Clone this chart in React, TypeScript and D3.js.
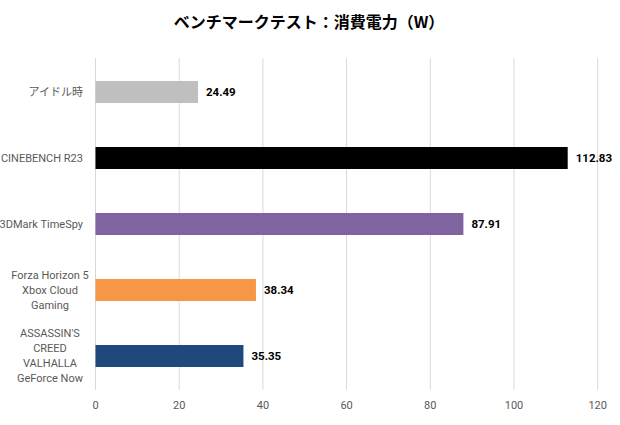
import React, { useEffect, useRef } from 'react';
import * as d3 from 'd3';

// Chart data
const categories = ['アイドル時', 'CINEBENCH R23', '3DMark TimeSpy', 'Forza Horizon 5\nXbox Cloud\nGaming', "ASSASSIN'S\nCREED\nVALHALLA\nGeForce Now"];
const values = [24.49, 112.83, 87.91, 38.34, 35.35];
const barColors = ['#BFBFBF', '#000000', '#8064A2', '#F79646', '#1F497D'];
const xTicks = [0, 20, 40, 60, 80, 100, 120];
const title = 'ベンチマークテスト：消費電力（W）';

const App: React.FC = () => {
  const ref = useRef<SVGSVGElement>(null);

  useEffect(() => {
    if (!ref.current) return;
    const svg = d3.select(ref.current);
    svg.selectAll('*').remove();
    const width = 620;
    const height = 425;
    const font = 'Roboto, "Noto Sans CJK JP", sans-serif';

    svg.append('rect').attr('width', width).attr('height', height).attr('fill', '#fff');

    // Title
    svg.append('text').attr('x', 309).attr('y', 28).attr('text-anchor', 'middle')
      .style('font-family', '"Noto Sans CJK JP", sans-serif').style('font-size', '16px').style('font-weight', 'bold')
      .attr('fill', '#000').text(title);

    const x = d3.scaleLinear().domain([0, 120]).range([95.5, 597.7]);
    const y = d3.scaleBand().domain(categories).range([59, 389]).paddingInner(2 / 3).paddingOuter(1 / 3);

    // Gridlines
    svg.append('g').selectAll('line').data(xTicks).enter().append('line')
      .attr('x1', d => x(d)).attr('x2', d => x(d)).attr('y1', 58).attr('y2', 390)
      .attr('stroke', '#D9D9D9').attr('stroke-width', 1);

    // Tick labels
    svg.append('g').selectAll('text').data(xTicks).enter().append('text')
      .attr('x', d => x(d)).attr('y', 409).attr('text-anchor', 'middle')
      .style('font-family', font).style('font-size', '11px').attr('fill', '#595959')
      .text(d => d);

    // Bars
    svg.append('g').selectAll('rect').data(values).enter().append('rect')
      .attr('x', x(0)).attr('y', (d, i) => y(categories[i]) || 0)
      .attr('width', d => x(d) - x(0)).attr('height', y.bandwidth())
      .attr('fill', (d, i) => barColors[i]);

    // Value labels
    svg.append('g').selectAll('text').data(values).enter().append('text')
      .attr('x', d => x(d) + 8).attr('y', (d, i) => (y(categories[i]) || 0) + y.bandwidth() / 2)
      .attr('dy', '0.35em')
      .style('font-family', font).style('font-size', '11.5px').style('font-weight', 'bold').attr('fill', '#000')
      .text(d => d.toFixed(2));

    // Category labels
    const lineH = 15;
    categories.forEach(c => {
      const lines = c.split('\n');
      const cy = (y(c) || 0) + y.bandwidth() / 2;
      const t = svg.append('text').attr('text-anchor', 'middle')
        .style('font-family', font).style('font-size', '11px').attr('fill', '#595959');
      const cx = lines.length > 1 ? 50 : 83;
      if (lines.length === 1) t.attr('text-anchor', 'end');
      lines.forEach((l, j) => {
        t.append('tspan').attr('x', cx)
          .attr('y', cy + (j - (lines.length - 1) / 2) * lineH)
          .attr('dy', '0.35em').text(l);
      });
    });
  }, []);

  return <svg ref={ref} width={620} height={425} style={{ display: 'block', position: 'absolute', left: 0, top: 0 }} />;
};

export default App;
